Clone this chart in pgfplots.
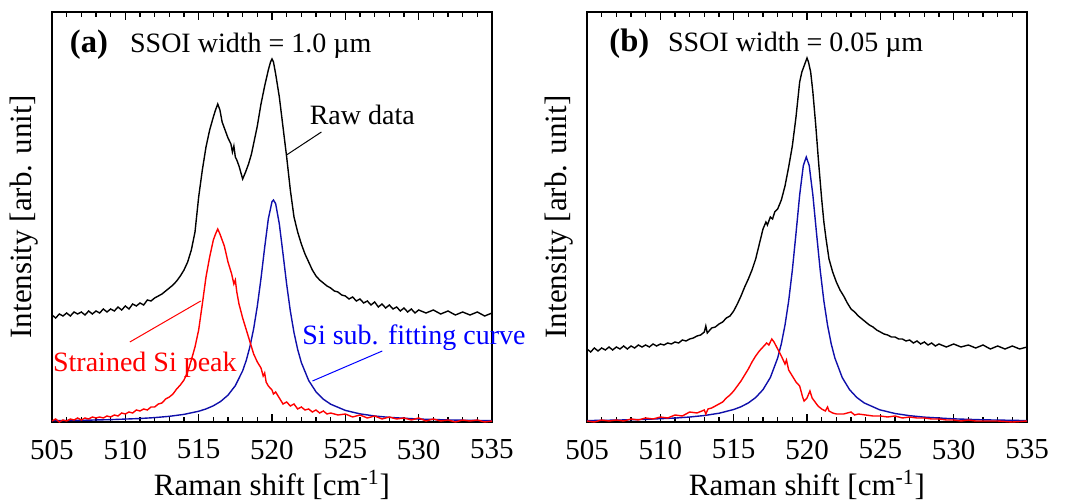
\documentclass[border=0pt]{standalone}
\usepackage{fontspec}
\setmainfont{Liberation Serif}
\usepackage{pgfplots}
\pgfplotsset{compat=1.18}
\definecolor{fitblue}{RGB}{15,15,170}
\definecolor{lblblue}{RGB}{0,0,255}
\pgfplotsset{
 myax/.style={
  width=220pt, height=205pt, scale only axis,
  xmin=505, xmax=535, ymin=0, ymax=410,
  xtick={505,510,...,535}, minor x tick num=4,
  ytick=\empty,
  tick align=inside, xtick pos=both,
  major tick length=4pt, minor tick length=2.5pt,
  axis line style={line width=0.75pt},
  every tick/.style={black, line width=0.6pt},
  xlabel={Raman shift [cm\textsuperscript{-1}]},
  ylabel={Intensity [arb. unit]},
  label style={font=\fontsize{15.5}{18}\selectfont},
  ylabel style={inner sep=0pt, at={(axis description cs:-0.03,0.5)}, anchor=south},
  xticklabel style={yshift=-4pt, font=\fontsize{14.5}{17}\selectfont},
  xlabel style={yshift=4pt},
  /pgf/number format/assume math mode=true,
  /pgf/number format/1000 sep={},
  clip=false,
 }
}
\begin{document}
\fontsize{14}{17}\selectfont
\begin{tikzpicture}[font=\fontsize{14}{17}\selectfont]
\path[use as bounding box] (-26pt,-40pt) rectangle (511.5pt,211pt);
% ---------------- panel (a)
\begin{axis}[myax, at={(0pt,0pt)}, anchor=south west]
\addplot[black, line width=0.7pt] coordinates {
(505,107)(505.25,104)(505.5,108)(505.75,106)(506,109)(506.25,106)(506.5,110)(506.75,108)
(507,110)(507.25,107)(507.5,111)(507.75,108)(508,111)(508.25,109)(508.5,113)(508.75,110)
(509,113)(509.25,111)(509.5,115)(509.75,112)(510,116)(510.25,113)(510.5,118)(510.75,116)
(511,119)(511.25,117)(511.5,122)(511.75,121)(512,124)(512.25,126)(512.5,128)(512.75,131)
(513,134)(513.25,137)(513.5,141)(513.75,146)(514,152)(514.25,160)(514.5,172)(514.75,190)
(515,225)(515.25,252)(515.5,275)(515.75,292)(516,305)(516.15,312)(516.3,318)(516.45,312)
(516.6,300)(516.75,294)(517,284)(517.2,278)(517.3,270)(517.4,276)(517.5,265)(517.6,262)
(517.75,256)(518,243)(518.2,250)(518.4,258)(518.6,268)(518.8,282)(519,296)(519.25,318)
(519.5,336)(519.75,352)(519.9,360)(520,363)(520.1,360)(520.25,348)(520.5,325)(520.75,295)
(521,265)(521.25,232)(521.5,205)(521.75,190)(522,178)(522.25,168)(522.5,160)(522.75,152)
(523,146)(523.25,142)(523.5,139)(523.75,136)(524,134)(524.25,131)(524.5,130)(524.75,127)
(525,126)(525.25,123)(525.5,125)(525.75,121)(526,123)(526.25,119)(526.5,121)(526.75,117)
(527,120)(527.25,115)(527.5,118)(527.75,114)(528,117)(528.25,113)(528.5,115)(528.75,111)
(529,114)(529.25,110)(529.5,113)(529.75,109)(530,112)(530.5,109)(531,112)(531.5,108)
(532,111)(532.5,107)(533,110)(533.5,107)(534,110)(534.5,106)(535,109)};
\addplot[fitblue, line width=0.7pt] coordinates {
(505,1.28)(507,1.70)(509,2.36)(511,3.49)(512,4.39)(513,5.68)(514,7.62)(515,10.74)
(515.5,13.06)(516,16.19)(516.5,20.56)(517,26.86)(517.5,36.34)(518,51.24)(518.25,61.88)
(518.5,75.62)(518.75,93.35)(519,115.93)(519.25,143.57)(519.5,174.5)(519.75,203.2)
(520,220.3)(520.1,222)(520.25,218.3)(520.5,198.0)(520.75,168.3)(521,137.7)(521.25,111)
(521.5,89.4)(521.75,72.6)(522,59.5)(522.5,41.5)(523,30.2)(523.5,22.8)(524,17.8)
(525,11.6)(526,8.13)(527,6.0)(528,4.6)(530,2.96)(532,2.05)(535,1.31)};
\addplot[red, line width=0.7pt] coordinates {
(505,1)(505.25,3)(505.5,0)(505.75,2)(506,1)(506.25,3)(506.5,2)(506.75,4)(507,2)(507.25,4)
(507.5,3)(507.75,5)(508,4)(508.25,5)(508.5,4)(508.75,6)(509,5)(509.25,7)(509.5,6)(509.75,9)
(510,8)(510.25,10)(510.5,9)(510.75,12)(511,11)(511.25,13)(511.5,12)(511.75,15)(512,15)
(512.25,18)(512.5,19)(512.75,23)(513,25)(513.25,28)(513.5,33)(513.75,37)(514,42)(514.25,50)
(514.5,62)(514.75,75)(515,92)(515.25,118)(515.5,145)(515.75,165)(516,182)(516.15,188)
(516.3,193)(516.45,188)(516.6,182)(516.75,176)(517,160)(517.25,148)(517.4,138)(517.5,142)
(517.6,130)(517.75,118)(518,104)(518.25,92)(518.5,80)(518.75,68)(519,60)(519.25,54)
(519.4,46)(519.5,49)(519.6,40)(519.75,36)(520,32)(520.1,28)(520.25,30)(520.5,24)
(520.75,18)(521,20)(521.25,16)(521.5,18)(521.75,13)(522,15)(522.25,12)(522.5,13)
(522.75,10)(523,12)(523.25,9)(523.5,11)(523.75,8)(524,9)(524.5,7)(525,8)(525.5,5)
(526,7)(526.5,4)(527,6)(527.5,3)(528,5)(528.5,3)(529,4)(529.5,2)(530,4)(530.5,1)
(531,3)(531.5,1)(532,2)(532.5,0)(533,2)(533.5,1)(534,2)(534.5,0)(535,1)};
\node[anchor=base west, inner sep=0pt, font=\fontsize{16.3}{19}\selectfont\bfseries] at (axis cs:506.2,369) {(a)};
\node[anchor=base west, inner sep=0pt] at (axis cs:510.3,369) {SSOI width = 1.0 µm};
\node[anchor=base west, inner sep=0pt] at (axis cs:522.55,297) {Raw data};
\draw[black, line width=0.5pt] (axis cs:523.37,290) -- (axis cs:520.99,267);
\node[anchor=base west, red, inner sep=0pt] at (axis cs:505.05,50) {Strained Si peak};
\draw[red, line width=0.5pt] (axis cs:510.31,80) -- (axis cs:515.14,121);
\node[anchor=base west, lblblue, inner sep=0pt] at (axis cs:522.05,77) {Si sub. fitting curve};
\draw[lblblue, line width=0.5pt] (axis cs:522.76,41) -- (axis cs:527.52,71);
\end{axis}
% ---------------- panel (b)
\begin{axis}[myax, at={(267.5pt,0pt)}, anchor=south west]
\addplot[black, line width=0.7pt] coordinates {
(505,73)(505.25,70)(505.5,74)(505.75,71)(506,74)(506.25,72)(506.5,75)(506.75,72)(507,75)
(507.25,73)(507.5,76)(507.75,73)(508,76)(508.25,74)(508.5,77)(508.75,75)(509,77)(509.25,75)
(509.5,78)(509.75,76)(510,78)(510.25,77)(510.5,79)(510.75,78)(511,80)(511.25,79)(511.5,82)
(511.75,81)(512,83)(512.25,84)(512.5,86)(512.75,87)(513,90)(513.1,96)(513.2,89)(513.5,94)
(513.75,95)(514,98)(514.25,100)(514.5,104)(514.75,106)(515,111)(515.25,118)(515.5,126)
(515.75,135)(516,143)(516.25,152)(516.5,163)(516.75,178)(517,193)(517.2,200)(517.3,197)
(517.5,205)(517.65,203)(517.8,210)(518,213)(518.25,222)(518.5,236)(518.75,255)(519,276)
(519.25,305)(519.5,340)(519.65,350)(519.75,354)(519.85,358)(520,364)(520.1,360)(520.25,350)
(520.4,330)(520.6,296)(520.8,258)(521,223)(521.15,200)(521.3,183)(521.5,163)(521.75,150)
(522,140)(522.25,132)(522.5,126)(522.75,119)(523,113)(523.25,110)(523.5,106)(523.75,103)
(524,100)(524.25,97)(524.5,95)(524.75,92)(525,90)(525.25,88)(525.5,87)(525.75,85)(526,85)
(526.25,83)(526.5,83)(526.75,81)(527,82)(527.25,79)(527.5,81)(527.75,78)(528,80)(528.25,77)
(528.5,79)(528.75,76)(529,78)(529.5,75)(530,78)(530.5,75)(531,77)(531.5,74)(532,77)
(532.5,73)(533,76)(533.5,73)(534,76)(534.5,73)(535,75)};
\addplot[fitblue, line width=0.7pt] coordinates {
(505,1.43)(507,1.90)(509,2.65)(511,3.94)(512,4.98)(513,6.48)(514,8.76)(515,12.47)
(515.5,15.26)(516,19.07)(516.5,24.46)(517,32.36)(517.5,44.47)(518,64.0)(518.25,78.2)
(518.5,96.9)(518.75,121.0)(519,151.8)(519.25,188.6)(519.5,227.0)(519.75,256.5)(519.95,265)
(520.15,256.5)(520.4,227.0)(520.65,188.6)(520.9,151.8)(521.15,121.0)(521.4,96.9)
(521.65,78.2)(521.9,64.0)(522.4,44.47)(522.9,32.36)(523.4,24.46)(523.9,19.07)
(524.95,12.23)(526,8.48)(527,6.30)(528,4.86)(530,3.14)(532,2.19)(535,1.41)};
\addplot[red, line width=0.7pt] coordinates {
(505,1)(505.5,0)(506,2)(506.5,1)(507,2)(507.5,1)(508,3)(508.5,2)(509,4)(509.5,3)(510,5)
(510.5,4)(511,7)(511.5,6)(512,10)(512.5,9)(513,12)(513.1,8)(513.25,13)(513.5,14)(513.75,16)
(514,18)(514.25,20)(514.5,24)(514.75,27)(515,31)(515.25,36)(515.5,41)(515.75,47)(516,53)
(516.25,60)(516.5,66)(516.75,71)(517,75)(517.25,79)(517.4,77)(517.6,83)(517.75,80)(518,73)
(518.25,66)(518.5,58)(518.6,62)(518.75,52)(519,46)(519.25,40)(519.5,36)(519.7,25)(519.8,21)
(520,24)(520.2,31)(520.35,24)(520.5,21)(520.75,16)(521,13)(521.25,11)(521.4,15)(521.5,11)
(521.75,9)(522,8)(522.5,8)(523,10)(523.25,7)(523.5,8)(524,7)(524.5,6)(525,6)(525.5,5)
(526,6)(526.5,4)(527,5)(527.5,4)(528,4)(528.5,3)(529,3)(529.5,2)(530,2)(530.5,1)(531,2)
(531.5,1)(532,1)(533,1)(534,0)(535,1)};
\node[anchor=base west, inner sep=0pt, font=\fontsize{16.3}{19}\selectfont\bfseries] at (axis cs:506.5,370) {(b)};
\node[anchor=base west, inner sep=0pt] at (axis cs:510.5,370) {SSOI width = 0.05 µm};
\end{axis}
\end{tikzpicture}
\end{document}
